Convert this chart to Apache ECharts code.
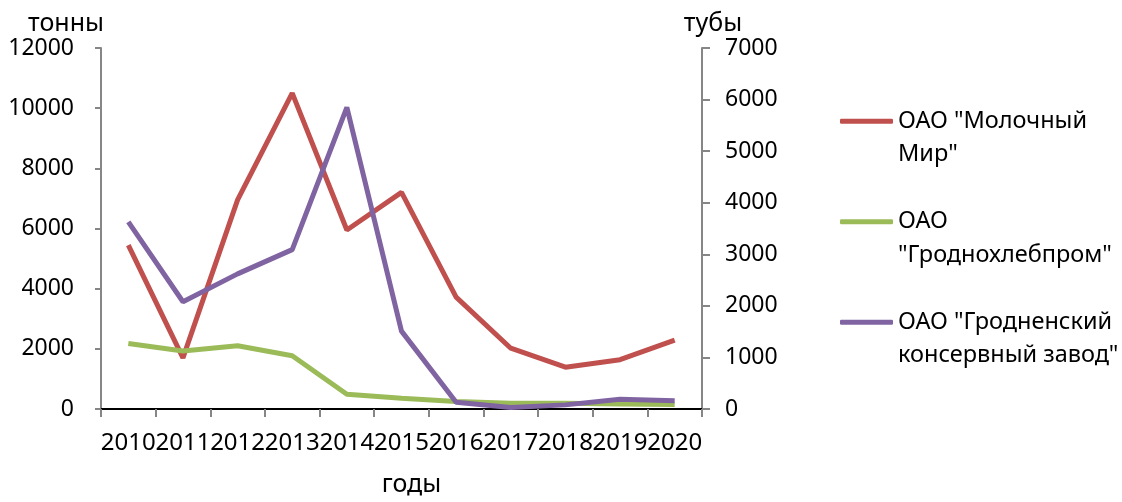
<!DOCTYPE html>
<html>
<head>
<meta charset="utf-8">
<script src="https://cdn.jsdelivr.net/npm/echarts@6/dist/echarts.min.js"></script>
<style>html,body{margin:0;padding:0;background:#fff;overflow:hidden;}#c{width:1122px;height:502px;}</style>
</head>
<body>
<div id="c"></div>
<script>
const years = ['2010','2011','2012','2013','2014','2015','2016','2017','2018','2019','2020'];
const seriesNames = ['ОАО "Молочный Мир"', 'ОАО "Гроднохлебпром"', 'ОАО "Гродненский консервный завод"'];
const legendLabels = ['ОАО "Молочный\nМир"', 'ОАО\n"Гроднохлебпром"', 'ОАО "Гродненский\nконсервный завод"'];
const molochnyMir = [5450, 1700, 6950, 10500, 5950, 7200, 3720, 2020, 1390, 1640, 2290];
const grodnokhlebprom = [2180, 1930, 2100, 1770, 490, 360, 250, 195, 195, 165, 150];
const konservnyZavod = [3630, 2080, 2620, 3090, 5850, 1510, 130, 30, 80, 190, 160];
const leftTicks = { min: 0, max: 12000, interval: 2000 };
const rightTicks = { min: 0, max: 7000, interval: 1000 };

const FONT = 'Noto Sans';
const gray = '#868686';
const colors = ['#C0504D', '#9BBB59', '#8064A2'];
const plain = function (v) { return String(v); };

const chart = echarts.init(document.getElementById('c'));
chart.setOption({
  animation: false,
  color: colors,
  textStyle: { fontFamily: FONT, color: '#000' },
  grid: { left: 101, width: 601, top: 48, height: 368 },
  legend: {
    orient: 'vertical',
    left: 840,
    top: 71,
    padding: 0,
    itemGap: 0,
    itemWidth: 53,
    itemHeight: 5,
    icon: 'roundRect',
    data: seriesNames,
    formatter: function (n) { return '\n' + legendLabels[seriesNames.indexOf(n)]; },
    textStyle: { fontFamily: FONT, fontSize: 23.5, color: '#000', lineHeight: 33.5 }
  },
  xAxis: [{
    type: 'category',
    data: years,
    boundaryGap: true,
    name: 'годы',
    nameLocation: 'middle',
    nameGap: 63,
    nameTextStyle: { fontFamily: FONT, fontSize: 25, color: '#000', padding: [0, 0, 0, 20] },
    axisLine: { lineStyle: { color: gray, width: 2 } },
    axisTick: { show: true, length: 8, lineStyle: { color: gray, width: 2 } },
    axisLabel: { interval: 0, fontFamily: FONT, fontSize: 24, color: '#000', margin: 22 },
    splitLine: { show: false }
  }, {
    type: 'category',
    data: years,
    position: 'top',
    axisLine: { lineStyle: { color: '#000', width: 2 } },
    axisTick: { show: false },
    axisLabel: { show: false },
    splitLine: { show: false }
  }],
  yAxis: [{
    type: 'value',
    min: leftTicks.min, max: leftTicks.max, interval: leftTicks.interval,
    name: 'тонны',
    nameLocation: 'end',
    nameGap: 11,
    nameTextStyle: { fontFamily: FONT, fontSize: 25, color: '#000', align: 'right', padding: [0, -3, 0, 0] },
    axisLine: { show: true, lineStyle: { color: gray, width: 2 } },
    axisTick: { show: true, length: 6, lineStyle: { color: gray, width: 2 } },
    axisLabel: { fontFamily: FONT, fontSize: 23, color: '#000', margin: 27, formatter: plain },
    splitLine: { show: false }
  }, {
    type: 'value',
    position: 'right',
    min: rightTicks.min, max: rightTicks.max, interval: rightTicks.interval,
    name: 'тубы',
    nameLocation: 'end',
    nameGap: 11,
    nameTextStyle: { fontFamily: FONT, fontSize: 25, color: '#000', align: 'center', padding: [0, 0, 0, 22] },
    axisLine: { show: true, lineStyle: { color: gray, width: 2 } },
    axisTick: { show: true, length: 8, lineStyle: { color: gray, width: 2 } },
    axisLabel: { fontFamily: FONT, fontSize: 23, color: '#000', margin: 23, formatter: plain },
    splitLine: { show: false }
  }],
  series: [{
    name: seriesNames[0], type: 'line', yAxisIndex: 0, data: molochnyMir,
    symbol: 'none', lineStyle: { width: 5, color: colors[0] }, itemStyle: { color: colors[0] }
  }, {
    name: seriesNames[1], type: 'line', yAxisIndex: 0, data: grodnokhlebprom,
    symbol: 'none', lineStyle: { width: 5, color: colors[1] }, itemStyle: { color: colors[1] }
  }, {
    name: seriesNames[2], type: 'line', yAxisIndex: 1, data: konservnyZavod,
    symbol: 'none', lineStyle: { width: 5, color: colors[2] }, itemStyle: { color: colors[2] }
  }]
});
</script>
</body>
</html>
